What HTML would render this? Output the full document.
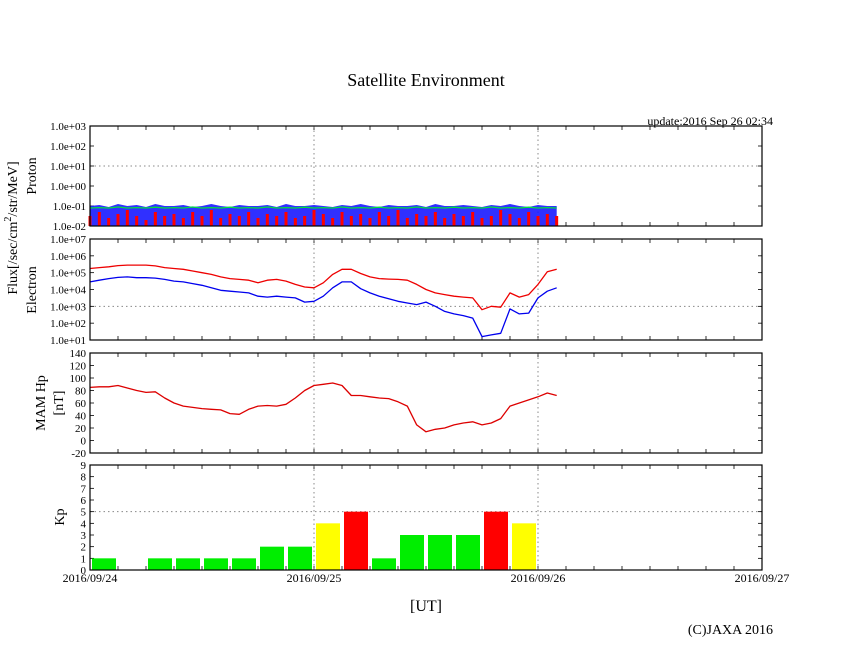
<!DOCTYPE html>
<html><head><meta charset="utf-8"><style>
body{margin:0;background:#fff;}
svg{display:block;font-family:"Liberation Serif",serif;}
</style></head><body>
<svg id="c" width="846" height="655" viewBox="0 0 846 655" xmlns="http://www.w3.org/2000/svg">
<text x="426" y="86" font-size="18" text-anchor="middle">Satellite Environment</text>
<text x="773" y="125" font-size="12" text-anchor="end">update:2016 Sep 26 02:34</text>
<text transform="translate(17,228) rotate(-90)" font-size="14" text-anchor="middle">Flux[/sec/cm<tspan dy="-6" font-size="10">2</tspan><tspan dy="6">/str/MeV]</tspan></text>
<text transform="translate(36,176) rotate(-90)" font-size="14" text-anchor="middle">Proton</text>
<text transform="translate(36,290) rotate(-90)" font-size="14" text-anchor="middle">Electron</text>
<text transform="translate(45,403) rotate(-90)" font-size="14" text-anchor="middle">MAM Hp</text>
<text transform="translate(63,403) rotate(-90)" font-size="14" text-anchor="middle">[nT]</text>
<text transform="translate(64,517) rotate(-90)" font-size="14" text-anchor="middle">Kp</text>
<text x="426" y="611" font-size="16" text-anchor="middle">[UT]</text>
<text x="773" y="634" font-size="14" text-anchor="end">(C)JAXA 2016</text>
<g id="g"></g>
</svg>
<script>
const dateLabels=["2016/09/24","2016/09/25","2016/09/26","2016/09/27"];
const hours=[0,1,2,3,4,5,6,7,8,9,10,11,12,13,14,15,16,17,18,19,20,21,22,23,24,25,26,27,28,29,30,31,32,33,34,35,36,37,38,39,40,41,42,43,44,45,46,47,48,49,50];
const mamHp=[85,86,86,88,84,80,77,78,68,60,55,53,51,50,49,43,42,50,55,56,55,58,68,80,88,90,92,88,72,72,70,68,67,62,55,25,14,18,20,25,28,30,25,28,35,55,60,65,70,76,72];
const electronRedLog=[5.25,5.3,5.35,5.42,5.45,5.45,5.45,5.4,5.3,5.25,5.2,5.1,5.0,4.9,4.75,4.65,4.6,4.55,4.4,4.55,4.6,4.5,4.3,4.15,4.1,4.4,4.9,5.2,5.2,4.95,4.75,4.65,4.62,4.6,4.55,4.3,4.0,3.8,3.7,3.6,3.55,3.5,2.8,3.0,2.95,3.8,3.55,3.7,4.3,5.05,5.2];
const electronBlueLog=[4.45,4.55,4.65,4.72,4.75,4.7,4.7,4.68,4.6,4.5,4.45,4.35,4.25,4.1,3.95,3.9,3.85,3.8,3.6,3.55,3.6,3.55,3.5,3.25,3.3,3.6,4.1,4.45,4.45,4.05,3.8,3.6,3.45,3.3,3.2,3.1,3.25,3.0,2.7,2.55,2.45,2.3,1.2,1.3,1.4,2.85,2.55,2.6,3.5,3.9,4.1];
const protonBlueLog=[-1.0,-0.95,-1.05,-0.9,-1.0,-0.95,-1.05,-0.9,-1.0,-1.0,-0.95,-1.05,-1.0,-0.9,-1.0,-1.05,-0.95,-1.0,-1.0,-0.95,-1.05,-0.9,-1.0,-1.0,-0.95,-1.0,-1.05,-0.95,-1.0,-0.9,-1.0,-1.05,-0.95,-1.0,-1.0,-0.95,-1.05,-0.9,-1.0,-1.0,-0.95,-1.0,-1.05,-0.95,-1.0,-0.9,-1.0,-1.05,-0.95,-1.0,-1.0];
const protonGreenLog=[-1.1,-1.08,-1.1,-1.05,-1.1,-1.08,-1.1,-1.06,-1.1,-1.08,-1.1,-1.05,-1.1,-1.08,-1.1,-1.06,-1.1,-1.08,-1.1,-1.05,-1.1,-1.08,-1.1,-1.06,-1.1,-1.08,-1.1,-1.05,-1.1,-1.08,-1.1,-1.06,-1.1,-1.08,-1.1,-1.05,-1.1,-1.08,-1.1,-1.06,-1.1,-1.08,-1.1,-1.05,-1.1,-1.08,-1.1,-1.06,-1.1,-1.08,-1.1];
const protonRedLog=[-1.5,-1.3,-1.6,-1.4,-1.2,-1.5,-1.7,-1.3,-1.5,-1.4,-1.6,-1.3,-1.5,-1.2,-1.6,-1.4,-1.5,-1.3,-1.6,-1.4,-1.5,-1.3,-1.6,-1.5,-1.2,-1.4,-1.6,-1.3,-1.5,-1.4,-1.6,-1.3,-1.5,-1.2,-1.6,-1.4,-1.5,-1.3,-1.6,-1.4,-1.5,-1.3,-1.6,-1.5,-1.2,-1.4,-1.6,-1.3,-1.5,-1.4,-1.5];
const kpValues=[1,null,1,1,1,1,2,2,4,5,1,3,3,3,5,4];
const protonTicks=["1.0e-02","1.0e-01","1.0e+00","1.0e+01","1.0e+02","1.0e+03"];
const electronTicks=["1.0e+01","1.0e+02","1.0e+03","1.0e+04","1.0e+05","1.0e+06","1.0e+07"];
const mamTicks=[-20,0,20,40,60,80,100,120,140];
const kpTicks=[0,1,2,3,4,5,6,7,8,9];

const NS="http://www.w3.org/2000/svg";
const g=document.getElementById('g');
const X0=90,X1=762;
const xH=h=>X0+(X1-X0)*h/72;
function el(t,a,p){const e=document.createElementNS(NS,t);for(const k in a)e.setAttribute(k,a[k]);(p||g).appendChild(e);return e;}
const P={pr:[126,226,-2,3],el:[239,340,1,7],mam:[353,453,-20,140],kp:[465,570,0,9]};
function yF(p){const [t,b,lo,hi]=P[p];return v=>b-(v-lo)/(hi-lo)*(b-t);}
const yPr=yF('pr'),yEl=yF('el'),yM=yF('mam'),yK=yF('kp');

function frame(p,name){
  const [t,b]=P[p];
  for(let i=1;i<24;i++){const x=xH(i*3);
    el('line',{x1:x,x2:x,y1:t,y2:t+4,stroke:'#000','stroke-width':0.8});
    el('line',{x1:x,x2:x,y1:b,y2:b-4,stroke:'#000','stroke-width':0.8});}
  [24,48].forEach(h=>{const l=el('line',{x1:xH(h),x2:xH(h),y1:t,y2:b,stroke:'#888','stroke-dasharray':'1.5,3','stroke-width':1});
    });
}
function border(p,name){const [t,b]=P[p];const r=el('rect',{x:X0,y:t,width:X1-X0,height:b-t,fill:'none',stroke:'#000','stroke-width':1.2});
  }
function hgrid(p,y,name){const l=el('line',{x1:X0,x2:X1,y1:y,y2:y,stroke:'#888','stroke-dasharray':'1.5,3','stroke-width':1});
  }
function tickLabel(y,txt,name){const t=el('text',{x:86,y:y+4,'font-size':11,'text-anchor':'end'});t.textContent=txt;
  }
function ytick(y){el('line',{x1:X0,x2:X0+4,y1:y,y2:y,stroke:'#000','stroke-width':0.8});el('line',{x1:X1,x2:X1-4,y1:y,y2:y,stroke:'#000','stroke-width':0.8});}
function line(vals,yf,color,name){const d=vals.map((v,i)=>(i?'L':'M')+xH(hours[i]).toFixed(1)+','+yf(v).toFixed(1)).join('');
  const p=el('path',{d,fill:'none',stroke:color,'stroke-width':1.3,'stroke-linejoin':'round'});
  }

// Proton
frame('pr','proton');hgrid('pr',yPr(1),'proton-gridline-1e1');
protonTicks.forEach((s,i)=>{const y=yPr(-2+i);ytick(y);tickLabel(y,s,'proton-tick-label');});
(function(){const b=P.pr[1];
  let d='M'+xH(0)+','+b+protonBlueLog.map((v,i)=>'L'+xH(hours[i]).toFixed(1)+','+yPr(v).toFixed(1)).join('')+'L'+xH(50)+','+b+'Z';
  const a=el('path',{d,fill:'#1a1aff',opacity:0.9});
  protonRedLog.forEach((v,i)=>{const x=xH(hours[i]);
    const r=el('rect',{x:x-1.5,y:yPr(v),width:3,height:b-yPr(v),fill:'#ff0000'});
    });
})();
line(protonGreenLog,yPr,'#00dd44','proton-green-series');
border('pr','proton');

// Electron
frame('el','electron');hgrid('el',yEl(3),'electron-gridline-1e3');
electronTicks.forEach((s,i)=>{const y=yEl(1+i);ytick(y);tickLabel(y,s,'electron-tick-label');});
line(electronRedLog,yEl,'#ee0000','electron-red-series');
line(electronBlueLog,yEl,'#0000ee','electron-blue-series');
border('el','electron');

// MAM
frame('mam','mam');
mamTicks.forEach(v=>{const y=yM(v);ytick(y);tickLabel(y,String(v),'mam-tick-label');});
line(mamHp,yM,'#dd0000','mam-hp-series');
border('mam','mam');

// Kp
frame('kp','kp');hgrid('kp',yK(5),'kp-gridline-5');
kpTicks.forEach(v=>{const y=yK(v);ytick(y);tickLabel(y,String(v),'kp-tick-label');});
kpValues.forEach((v,i)=>{if(v==null)return;
  const c=v>=5?'#ff0000':v>=4?'#ffff00':'#00ee00';
  const x0=xH(i*3)+2,x1=xH(i*3+3)-2;
  const r=el('rect',{x:x0,y:yK(v),width:x1-x0,height:yK(0)-yK(v),fill:c});
  });
border('kp','kp');

dateLabels.forEach((s,i)=>{const t=el('text',{x:xH(i*24),y:582,'font-size':12,'text-anchor':'middle'});t.textContent=s;
  });
</script>
</body></html>
